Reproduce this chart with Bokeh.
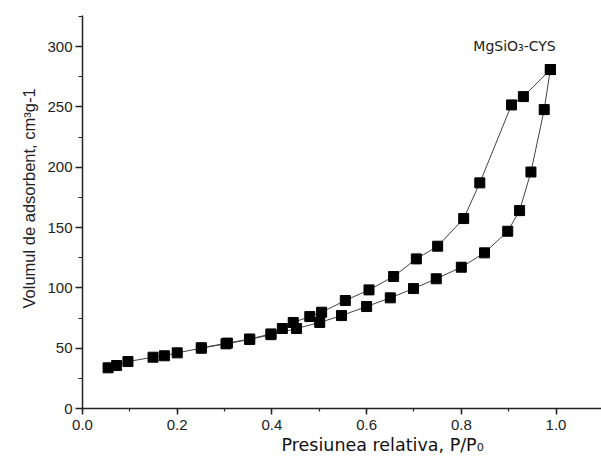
from bokeh.plotting import figure
from bokeh.models import Range1d, Label, SingleIntervalTicker, NumeralTickFormatter, Title
from bokeh.embed import file_html
from bokeh.resources import INLINE

# Adsorption branch (lower)
ads_p = [0.054, 0.072, 0.096, 0.149, 0.173, 0.200, 0.251, 0.303, 0.353, 0.398,
         0.452, 0.501, 0.547, 0.600, 0.650, 0.699, 0.747, 0.800, 0.849, 0.898,
         0.923, 0.947, 0.975, 0.988]
ads_v = [33.7, 35.6, 38.9, 42.5, 43.7, 46.1, 50.0, 53.6, 57.2, 61.2,
         66.3, 71.3, 77.0, 84.5, 91.7, 99.4, 107.5, 117.1, 129.0, 146.9,
         164.0, 196.0, 247.7, 280.9]

# Desorption branch (upper)
des_p = [0.988, 0.931, 0.906, 0.839, 0.805, 0.750, 0.705, 0.657, 0.605, 0.555,
         0.505, 0.480, 0.445, 0.422, 0.398, 0.353, 0.306, 0.251]
des_v = [280.9, 258.5, 251.6, 187.0, 157.4, 134.5, 124.0, 109.4, 98.3, 89.5,
         79.8, 76.2, 71.3, 66.3, 61.8, 57.6, 54.2, 50.3]

sample_label = "MgSiO\u2083-CYS"
x_title = "Presiunea relativa, P/P\u2080"
y_title = "Volumul de adsorbent, cm\u00b3g-1"

W, H = 601, 459
LEFT, TOP, BOTTOM = 82, 15, 51
FRAME_BOTTOM = H - BOTTOM  # 408

p = figure(width=W, height=H, output_backend="svg", toolbar_location=None,
           x_range=Range1d(0, 1.096), y_range=Range1d(0, 325.7),
           min_border_left=LEFT, min_border_right=0, min_border_top=TOP,
           min_border_bottom=BOTTOM)
p.outline_line_color = None
p.grid.visible = False
p.background_fill_color = "white"
p.border_fill_color = "white"

for ax in (p.xaxis[0], p.yaxis[0]):
    ax.axis_line_color = "#222222"
    ax.axis_line_width = 1.5
    ax.major_tick_line_color = "#222222"
    ax.minor_tick_line_color = "#222222"
    ax.major_tick_line_width = 1.5
    ax.minor_tick_line_width = 1.2
    ax.major_tick_in = 0
    ax.minor_tick_in = 0
    ax.major_label_text_font = "Liberation Sans"
    ax.major_label_text_font_size = "15px"
    ax.major_label_text_color = "#222222"

p.xaxis.ticker = SingleIntervalTicker(interval=0.2, num_minor_ticks=2)
p.yaxis.ticker = SingleIntervalTicker(interval=50, num_minor_ticks=2)
p.xaxis.formatter = NumeralTickFormatter(format="0.0")
p.xaxis.major_tick_out = 6
p.xaxis.minor_tick_out = 3
p.yaxis.major_tick_out = 7
p.yaxis.minor_tick_out = 4
p.xaxis.major_label_standoff = 5
p.yaxis.major_label_standoff = 3

p.line(ads_p, ads_v, line_color="#444444", line_width=1)
p.line(des_p, des_v, line_color="#444444", line_width=1)
p.scatter(ads_p, ads_v, marker="square", size=10, fill_color="black", line_color="black")
p.scatter(des_p, des_v, marker="square", size=10, fill_color="black", line_color="black")

# screen units are relative to the frame's bottom-left corner
p.add_layout(Label(x=514 - LEFT, y=FRAME_BOTTOM - 45, x_units="screen", y_units="screen",
                   text=sample_label, text_align="center", text_baseline="middle",
                   text_font="DejaVu Sans", text_font_size="14px", text_color="#222222"))

# axis titles placed as side titles so they can sit off-centre like the original
p.add_layout(Title(text=x_title, align="left", offset=281 - LEFT, standoff=0,
                   text_font="DejaVu Sans", text_font_size="17.5px",
                   text_font_style="normal", text_color="#111111"), "below")
p.add_layout(Title(text=y_title, align="left", offset=FRAME_BOTTOM - 308, standoff=14,
                   text_font="Liberation Sans", text_font_size="16.5px",
                   text_font_style="normal", text_color="#222222"), "left")

open("out.html", "w").write(file_html(p, INLINE))
